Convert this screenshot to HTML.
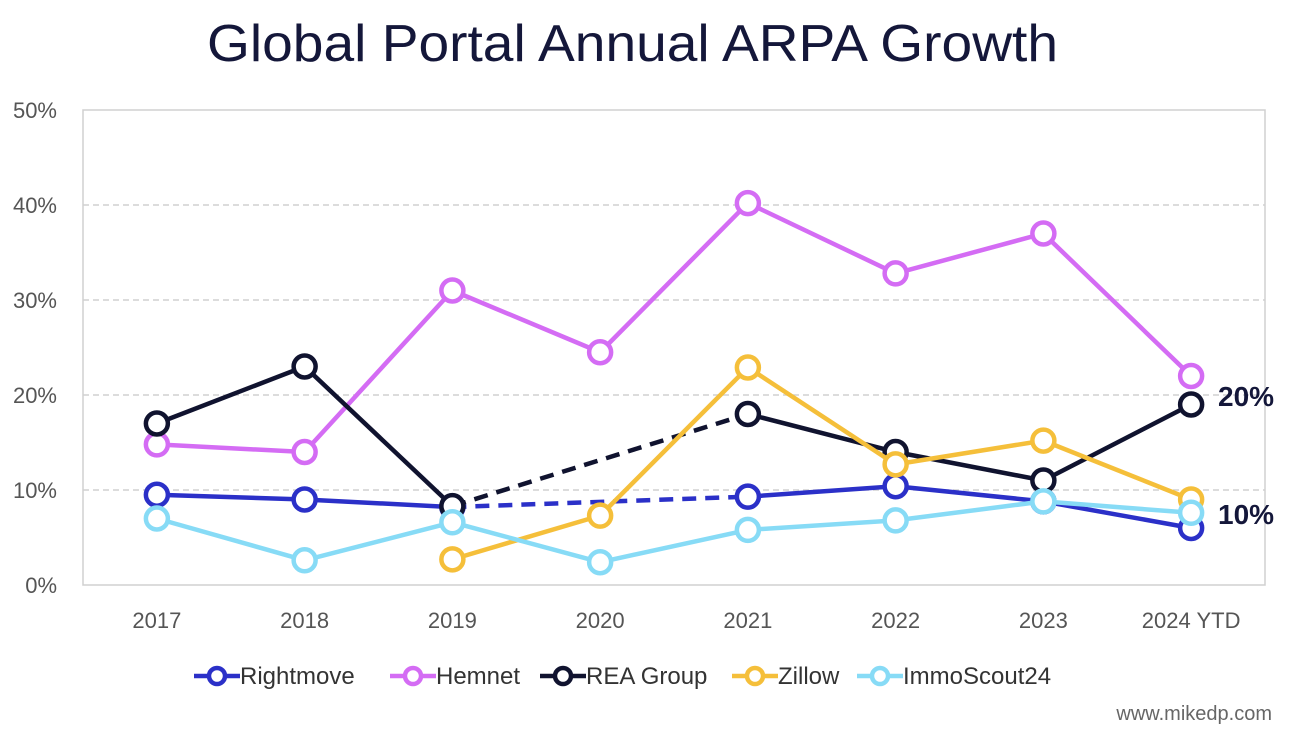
<!DOCTYPE html>
<html><head><meta charset="utf-8"><style>
body{margin:0;background:#fff;font-family:"Liberation Sans",sans-serif}
</style></head><body>
<svg id="chart" width="1296" height="736" xmlns="http://www.w3.org/2000/svg" style="display:block">
<rect width="1296" height="736" fill="#fff"/>
<text x="207" y="61" textLength="851" lengthAdjust="spacingAndGlyphs" font-size="52" fill="#14173a" font-family="Liberation Sans, sans-serif">Global Portal Annual ARPA Growth</text>
<g id="grid"></g><g id="axes"></g><g id="series"></g><g id="legend"></g>
<text x="1218" y="406" font-size="28" font-weight="bold" fill="#14173a">20%</text>
<text x="1218" y="524" font-size="28" font-weight="bold" fill="#14173a">10%</text>
<text x="1272" y="720" text-anchor="end" font-size="20" fill="#666">www.mikedp.com</text>
</svg>
<script>
const categories=["2017","2018","2019","2020","2021","2022","2023","2024 YTD"];
const yTicks=[0,10,20,30,40,50];
const seriesNames=["Rightmove","Hemnet","REA Group","Zillow","ImmoScout24"];
const seriesColors=["#2b30c8","#d46cf4","#10132f","#f5bf3a","#87dbf6"];
const rightmove=[9.5,9.0,8.2,null,9.3,10.4,8.8,6.0];
const hemnet=[14.8,14.0,31.0,24.5,40.2,32.8,37.0,22.0];
const reaGroup=[17.0,23.0,8.3,null,18.0,14.0,11.0,19.0];
const zillow=[null,null,2.7,7.3,22.9,12.7,15.2,9.0];
const immoscout=[7.0,2.6,6.6,2.4,5.8,6.8,8.8,7.6];
const allSeries=[rightmove,hemnet,reaGroup,zillow,immoscout];

const NS="http://www.w3.org/2000/svg";
const L=83,R=1265,T=110,B=585;
const band=(R-L)/categories.length;
const x=i=>L+band*(i+0.5);
const y=v=>B-(v/50)*(B-T);
function mk(tag,attrs,parent){const e=document.createElementNS(NS,tag);for(const k in attrs)e.setAttribute(k,attrs[k]);parent.appendChild(e);return e;}
const grid=document.getElementById('grid'),axes=document.getElementById('axes'),ser=document.getElementById('series'),leg=document.getElementById('legend');
yTicks.forEach(t=>{
 if(t>0&&t<50){const g=mk('line',{x1:L,x2:R,y1:y(t),y2:y(t),stroke:'#d0d0d0','stroke-width':1.5,'stroke-dasharray':'6,4'},grid);
 
 }
 const tx=mk('text',{x:57,y:y(t)+8,'text-anchor':'end','font-size':22,fill:'#555'},axes);tx.textContent=t+'%';
 
 
});
const frame=mk('rect',{x:L,y:T,width:R-L,height:B-T,fill:'none',stroke:'#d0d0d0','stroke-width':1.5},axes);


categories.forEach((c,i)=>{const tx=mk('text',{x:x(i),y:628,'text-anchor':'middle','font-size':22,fill:'#555'},axes);tx.textContent=c;
 
 });
allSeries.forEach((data,s)=>{
 const col=seriesColors[s];
 const g=mk('g',{},ser);
 
 
 let prev=null;
 data.forEach((v,i)=>{
  if(v===null)return;
  if(prev!==null){
   const ln=mk('line',{x1:x(prev),y1:y(data[prev]),x2:x(i),y2:y(v),stroke:col,'stroke-width':4.5},g);
   if(i-prev>1)ln.setAttribute('stroke-dasharray','14,9');
   
   
  }
  prev=i;
 });
 data.forEach((v,i)=>{
  if(v===null)return;
  const c=mk('circle',{cx:x(i),cy:y(v),r:11,fill:'#fff',stroke:col,'stroke-width':4.5},g);
  
  
 });
});
const legX=[194,390,540,732,857];
seriesNames.forEach((n,s)=>{
 const g=mk('g',{},leg);
 
 
 const lx=legX[s];
 mk('line',{x1:lx,x2:lx+46,y1:676,y2:676,stroke:seriesColors[s],'stroke-width':4.5},g);
 mk('circle',{cx:lx+23,cy:676,r:8,fill:'#fff',stroke:seriesColors[s],'stroke-width':4.5},g);
 const t=mk('text',{x:lx+46,y:684,'font-size':24,fill:'#333'},g);t.textContent=n;
});
</script>
</body></html>
